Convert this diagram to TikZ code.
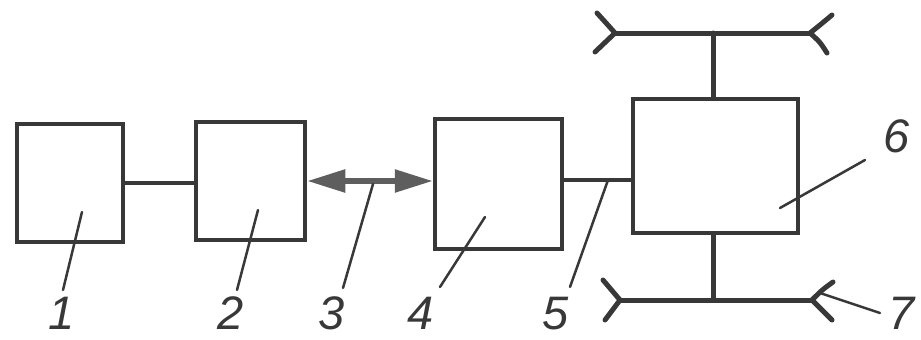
\documentclass[tikz,border=0pt]{standalone}
\usepackage{fontspec}
\setmainfont{Liberation Sans}
\usetikzlibrary{arrows.meta}
\definecolor{ink}{HTML}{383838}
\definecolor{arrowgray}{HTML}{5E5E5E}
\begin{document}
\begin{tikzpicture}[x=1pt,y=-1pt,
  blk/.style={draw=ink, line width=4.5pt, fill=white, inner sep=0pt},
  conn/.style={draw=ink, line width=4.5pt},
  dblarrow/.style={draw=arrowgray, line width=5.5pt,
     {Triangle[length=38pt,width=22pt,fill=arrowgray,color=arrowgray]}-{Triangle[length=38pt,width=22pt,fill=arrowgray,color=arrowgray]}},
  bus/.style={draw=ink, line width=5pt, line cap=round, line join=round},
  lead/.style={draw=ink, line width=2.5pt, line cap=round},
  lbl/.style={font=\fontsize{47}{47}\selectfont\itshape, inner sep=0pt, text=ink, anchor=base}]
\clip (0,0) rectangle (921,340);
\fill[white] (0,0) rectangle (921,340);

% blocks
\node[blk, minimum width=106pt, minimum height=118pt] (b1) at (70,183) {};
\node[blk, minimum width=109pt, minimum height=118pt] (b2) at (250.5,181) {};
\node[blk, minimum width=127pt, minimum height=130pt] (b4) at (498.5,184) {};
\node[blk, minimum width=165pt, minimum height=134pt] (b6) at (715.5,166) {};

% connections
\draw[conn] (b1.east) -- (b2.west |- b1.east);
\draw[dblarrow] (b2.east) -- (b4.west |- b2.east);
\coordinate (c45) at ([yshift=4pt]b4.east);
\draw[conn] (c45) -- (b6.west |- c45);

% axles
\coordinate (tl) at (615,33);
\coordinate (tr) at (810,33);
\coordinate (bl) at (620,300);
\coordinate (br) at (812,300);
\coordinate (tm) at (713,33);
\coordinate (bm) at (713,300);
\draw[bus] (tl) -- (tr);
\draw[bus] (bl) -- (br);
\draw[bus] (tm) -- (tm |- b6.north);
\draw[bus] (bm) -- (bm |- b6.south);
% wheel forks
\draw[bus] (597,13) .. controls (607,24) .. (tl) .. controls (605,42) .. (595,52);
\draw[bus] (832,15) .. controls (820,25) .. (tr) .. controls (820,42) .. (827,53);
\draw[bus] (603,280) .. controls (612,290) .. (bl) .. controls (612,310) .. (605,320);
\draw[bus] (833,282) .. controls (822,290) .. (br) .. controls (822,310) .. (832,320);

% labels
\node[lbl] (n1) at (62,329) {1};
\node[lbl] (n2) at (231,329) {2};
\node[lbl] (n3) at (332,329) {3};
\node[lbl] (n4) at (421,329) {4};
\node[lbl] (n5) at (556,329) {5};
\node[lbl] (n6) at (897,152) {6};
\node[lbl] (n7) at (902,329) {7};

% leaders
\coordinate (a1) at (82,212);  \coordinate (e1) at (63,290);
\coordinate (a2) at (258,210); \coordinate (e2) at (237,290);
\coordinate (a3) at (373,184); \coordinate (e3) at (343,288);
\coordinate (a4) at (485,217); \coordinate (e4) at (440,287);
\coordinate (a5) at (608,180); \coordinate (e5) at (570,287);
\coordinate (a6) at (780,208); \coordinate (e6) at (865,160);
\coordinate (a7) at (820,293); \coordinate (e7) at (880,313);
\foreach \i in {1,...,7} {\draw[lead] (a\i) -- (e\i);}
\end{tikzpicture}
\end{document}
